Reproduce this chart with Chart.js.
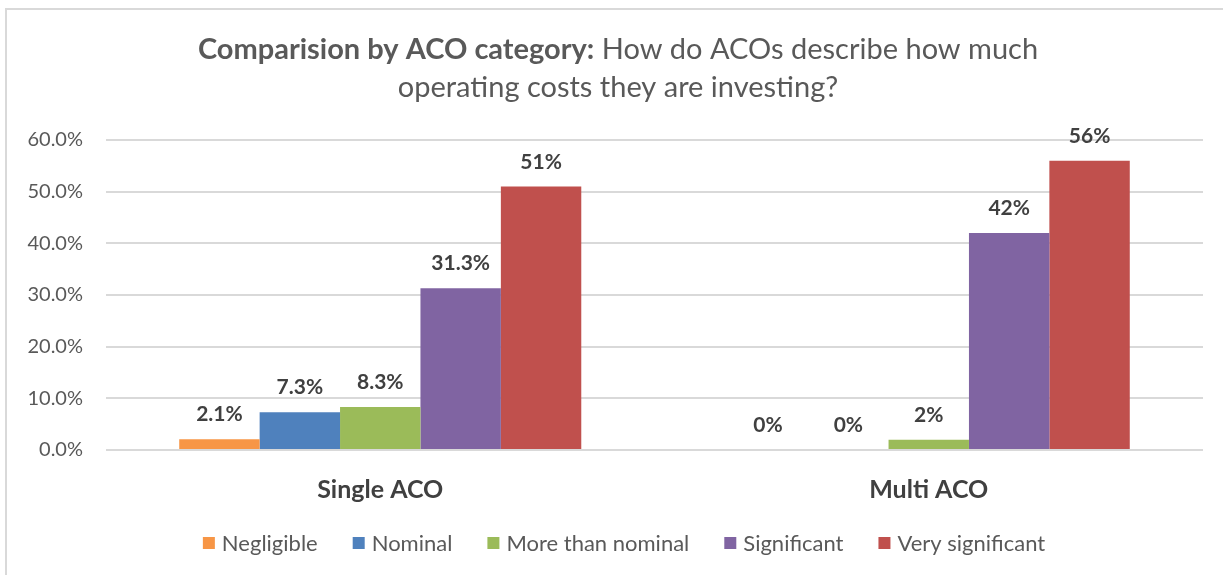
<!DOCTYPE html>
<html>
<head>
<meta charset="utf-8">
<script src="https://cdn.jsdelivr.net/npm/chart.js@4"></script>
<style>
  html, body { margin: 0; padding: 0; background: #fff; overflow: hidden; }
  #frame {
    position: absolute; left: 5px; top: 8px; width: 1300px; height: 700px;
    border-top: 2px solid #D9D9D9; border-left: 2px solid #D9D9D9;
  }
  #wrap { position: absolute; left: 0; top: 0; width: 1223px; height: 575px; }
</style>
</head>
<body>
<div id="frame"></div>
<div id="wrap"><canvas id="chart"></canvas></div>
<script>
// chart data
const categories = ['Single ACO', 'Multi ACO'];
const seriesNames = ['Negligible', 'Nominal', 'More than nominal', 'Significant', 'Very significant'];
const seriesColors = ['#F79646', '#4F81BD', '#9BBB59', '#8064A2', '#C0504D'];
const negligible = [2.1, 0];
const nominal = [7.3, 0];
const moreThanNominal = [8.3, 2];
const significant = [31.3, 42];
const verySignificant = [51, 56];
const yTicks = [0, 10, 20, 30, 40, 50, 60];

const titleBold = 'Comparision by ACO category:';
const titleRest = ' How do ACOs describe how much';
const titleLine2 = 'operating costs they are investing?';

const FONT = 'Lato';
const seriesValues = [negligible, nominal, moreThanNominal, significant, verySignificant];

// titel mit fett + normal, zweizeilig
const titlePlugin = {
  id: 'mixedTitle',
  afterDraw(chart) {
    const ctx = chart.ctx;
    ctx.save();
    ctx.fillStyle = '#595959';
    ctx.textBaseline = 'middle';
    const cx = 618;
    ctx.font = 'bold 29px ' + FONT;
    const wb = ctx.measureText(titleBold).width;
    ctx.font = '29px ' + FONT;
    const wr = ctx.measureText(titleRest).width;
    let x = cx - (wb + wr) / 2;
    ctx.textAlign = 'left';
    ctx.font = 'bold 29px ' + FONT;
    ctx.fillText(titleBold, x, 50);
    ctx.font = '29px ' + FONT;
    ctx.fillText(titleRest, x + wb, 50);
    ctx.textAlign = 'center';
    ctx.fillText(titleLine2, cx, 88);
    ctx.restore();
  }
};

// wert-labels über den balken
const valueLabels = {
  id: 'valueLabels',
  afterDatasetsDraw(chart) {
    const ctx = chart.ctx;
    ctx.save();
    ctx.font = 'bold 21px ' + FONT;
    ctx.fillStyle = '#404040';
    ctx.textAlign = 'center';
    ctx.textBaseline = 'alphabetic';
    chart.data.datasets.forEach((ds, i) => {
      chart.getDatasetMeta(i).data.forEach((bar, j) => {
        ctx.fillText(ds.data[j] + '%', bar.x, bar.y - 18);
      });
    });
    ctx.restore();
  }
};

// legende unten, eigene zeichnung
const legendPlugin = {
  id: 'bottomLegend',
  afterDraw(chart) {
    const ctx = chart.ctx;
    ctx.save();
    ctx.font = '22px ' + FONT;
    ctx.textBaseline = 'middle';
    ctx.textAlign = 'left';
    const box = 12, gapText = 7, gapItem = 35;
    const widths = seriesNames.map(n => box + gapText + ctx.measureText(n).width);
    const total = widths.reduce((a, b) => a + b, 0) + gapItem * (seriesNames.length - 1);
    let x = 624 - total / 2;
    const y = 543;
    seriesNames.forEach((n, i) => {
      ctx.fillStyle = seriesColors[i];
      ctx.fillRect(x, y - box / 2, box, box);
      ctx.fillStyle = '#595959';
      ctx.fillText(n, x + box + gapText, y + 1);
      x += widths[i] + gapItem;
    });
    ctx.restore();
  }
};

new Chart(document.getElementById('chart'), {
  type: 'bar',
  data: {
    labels: categories,
    datasets: seriesNames.map((name, i) => ({
      label: name,
      data: seriesValues[i],
      backgroundColor: seriesColors[i],
      borderWidth: 0,
      categoryPercentage: 0.733,
      barPercentage: 1.0
    }))
  },
  options: {
    responsive: true,
    maintainAspectRatio: false,
    animation: false,
    layout: { padding: { left: 6, top: 140, right: 20, bottom: 0 } },
    plugins: {
      legend: { display: false },
      title: { display: false },
      tooltip: { enabled: false }
    },
    scales: {
      x: {
        grid: { display: false, drawTicks: false },
        border: { display: false },
        ticks: {
          padding: 25,
          color: '#404040',
          font: { family: FONT, size: 25, weight: 'bold' }
        },
        afterFit(scale) { scale.height = 125; }
      },
      y: {
        min: 0,
        max: 60,
        afterBuildTicks(scale) { scale.ticks = yTicks.map(v => ({ value: v })); },
        grid: { color: '#D9D9D9', lineWidth: 2, drawTicks: false },
        border: { display: false },
        ticks: {
          padding: 23,
          color: '#595959',
          font: { family: FONT, size: 20 },
          callback: v => v.toFixed(1) + '%'
        },
        afterFit(scale) { scale.width = 100; }
      }
    }
  },
  plugins: [titlePlugin, valueLabels, legendPlugin]
});
</script>
</body>
</html>
